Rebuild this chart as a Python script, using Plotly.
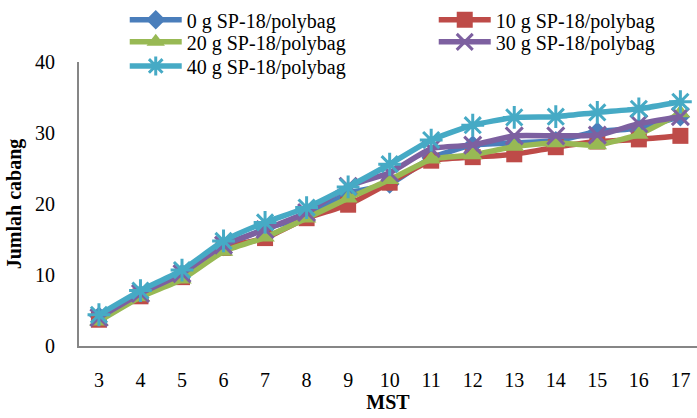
import plotly.graph_objects as go

mst = [3, 4, 5, 6, 7, 8, 9, 10, 11, 12, 13, 14, 15, 16, 17]
g0 = [4.2, 7.3, 10.2, 14.0, 16.5, 18.3, 21.5, 22.8, 26.5, 28.3, 28.6, 28.9, 30.2, 30.7, 32.3]
g10 = [3.7, 7.0, 9.7, 13.8, 15.2, 18.0, 19.9, 23.0, 26.1, 26.6, 27.0, 28.0, 28.8, 29.1, 29.6]
g20 = [3.5, 6.9, 9.4, 13.3, 15.3, 18.0, 20.8, 23.4, 26.3, 26.9, 28.1, 28.6, 28.3, 29.8, 32.8]
g30 = [4.0, 7.4, 10.2, 14.2, 16.4, 18.8, 22.5, 24.4, 27.8, 28.3, 29.6, 29.6, 29.7, 31.3, 32.3]
g40 = [4.4, 7.8, 10.7, 14.8, 17.4, 19.5, 22.4, 25.6, 29.0, 31.1, 32.2, 32.3, 32.9, 33.4, 34.4]

names = ["0 g SP-18/polybag", "10 g SP-18/polybag", "20 g SP-18/polybag",
         "30 g SP-18/polybag", "40 g SP-18/polybag"]
series = [g0, g10, g20, g30, g40]
colors = ["#4A7EBB", "#BE4B48", "#98B954", "#7D60A0", "#46AAC5"]
symbols = ["diamond", "square", "triangle-up", "x-thin-open", "asterisk-open"]
sizes = [15, 16, 17, 17, 19]
legend_ids = ["legend", "legend2", "legend3", "legend4", "legend5"]
# legend slots (column x, row y, anchor) in paper units
leg_x = [0.074, 0.574, 0.074, 0.574, 0.074]
leg_y = [1.217, 1.217, 1.071, 1.071, 0.986]
leg_anchor = ["top", "top", "middle", "middle", "middle"]

fig = go.Figure()
for nm, ys, c, s, sz, lg in zip(names, series, colors, symbols, sizes, legend_ids):
    open_sym = s.endswith("open")
    fig.add_trace(go.Scatter(
        x=mst, y=ys, name=nm, mode="lines+markers", legend=lg,
        line=dict(color=c, width=5.5, shape="spline", smoothing=0.5),
        marker=dict(symbol=s, size=sz, color=c,
                    line=dict(color=c, width=3 if open_sym else 0)),
    ))

font = "Liberation Serif, Times New Roman, serif"
legends = {}
for lg, lx, ly, la in zip(legend_ids, leg_x, leg_y, leg_anchor):
    legends[lg] = dict(orientation="v", x=lx, xanchor="left", y=ly, yanchor=la,
                       font=dict(family=font, size=20), bgcolor="rgba(0,0,0,0)",
                       itemwidth=52, tracegroupgap=0)

fig.update_layout(
    width=697, height=418,
    margin=dict(l=79, r=0, t=62, b=72),
    paper_bgcolor="white", plot_bgcolor="white",
    font=dict(family=font, size=20, color="black"),
    showlegend=True,
    **legends,
    xaxis=dict(range=[2.52, 17.4], tickmode="array", tickvals=mst,
               ticktext=[str(v) for v in mst],
               showgrid=False, zeroline=False, showline=True,
               linecolor="#868686", linewidth=2,
               ticks="outside", ticklen=15, tickcolor="rgba(0,0,0,0)",
               title=dict(text="<b>MST</b>", standoff=0,
                          font=dict(family=font, size=20))),
    yaxis=dict(range=[0, 40], tickvals=[0, 10, 20, 30, 40],
               showgrid=False, zeroline=False, showline=True,
               linecolor="#868686", linewidth=2,
               ticks="outside", ticklen=18, tickcolor="rgba(0,0,0,0)",
               title=dict(text="<b>Jumlah cabang</b>", standoff=8,
                          font=dict(family=font, size=20))),
)
fig.write_html("out.html")
